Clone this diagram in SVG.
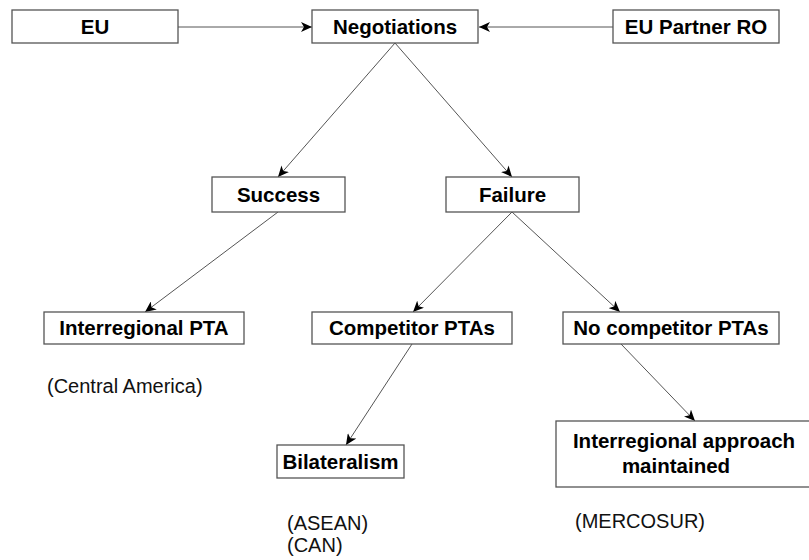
<svg xmlns="http://www.w3.org/2000/svg" width="809" height="560" viewBox="0 0 809 560">
<style>
.box{fill:#fff;stroke:#555;stroke-width:1.3}
.lbl{font-family:"Liberation Sans",Arial,sans-serif;font-size:20.5px;font-weight:bold;fill:#000;text-anchor:middle}
.note{font-family:"Liberation Sans",Arial,sans-serif;font-size:20px;fill:#111}
.con{stroke:#555;stroke-width:1;fill:none;marker-end:url(#ah)}
</style>
<defs>
<marker id="ah" markerWidth="12" markerHeight="10" refX="11" refY="5" orient="auto" markerUnits="userSpaceOnUse">
<path d="M0,0 L11,5 L0,10 L3,5 Z" fill="#000"/>
</marker>
</defs>
<rect width="809" height="560" fill="#fff"/>
<g id="connectors">
<line class="con" x1="178" y1="27" x2="312" y2="27"/>
<line class="con" x1="613" y1="27" x2="479" y2="27"/>
<line class="con" x1="395" y1="43" x2="278" y2="177"/>
<line class="con" x1="395" y1="43" x2="512" y2="177"/>
<line class="con" x1="278" y1="212" x2="145" y2="312"/>
<line class="con" x1="512" y1="212" x2="413" y2="312"/>
<line class="con" x1="512" y1="212" x2="620" y2="312"/>
<line class="con" x1="412" y1="344" x2="346" y2="445"/>
<line class="con" x1="621" y1="344" x2="695" y2="421"/>
</g>
<g id="eu"><rect class="box" x="12" y="10" width="166" height="33"/><text class="lbl" x="95" y="34">EU</text></g>
<g id="negotiations"><rect class="box" x="312" y="10" width="166" height="33"/><text class="lbl" x="395" y="34">Negotiations</text></g>
<g id="partner"><rect class="box" x="613" y="10" width="166" height="33"/><text class="lbl" x="696" y="34">EU Partner RO</text></g>
<g id="success"><rect class="box" x="212" y="177" width="133" height="35"/><text class="lbl" x="278.5" y="202">Success</text></g>
<g id="failure"><rect class="box" x="446" y="177" width="133" height="35"/><text class="lbl" x="512.5" y="202">Failure</text></g>
<g id="interregional-pta"><rect class="box" x="44" y="312" width="200" height="32"/><text class="lbl" x="144" y="335">Interregional PTA</text></g>
<g id="competitor"><rect class="box" x="312" y="312" width="200" height="32"/><text class="lbl" x="412" y="335">Competitor PTAs</text></g>
<g id="no-competitor"><rect class="box" x="563" y="312" width="216" height="32"/><text class="lbl" x="671" y="335">No competitor PTAs</text></g>
<g id="bilateralism"><rect class="box" x="277" y="445" width="127" height="33"/><text class="lbl" x="340.5" y="469">Bilateralism</text></g>
<g id="approach"><rect class="box" x="556" y="421" width="270" height="66"/><text class="lbl" x="684" y="448">Interregional approach</text><text class="lbl" x="676" y="473">maintained</text></g>
<g id="notes">
<text class="note" x="47" y="393">(Central America)</text>
<text class="note" x="287" y="530">(ASEAN)</text>
<text class="note" x="287" y="552">(CAN)</text>
<text class="note" x="575" y="528">(MERCOSUR)</text>
</g>
</svg>
